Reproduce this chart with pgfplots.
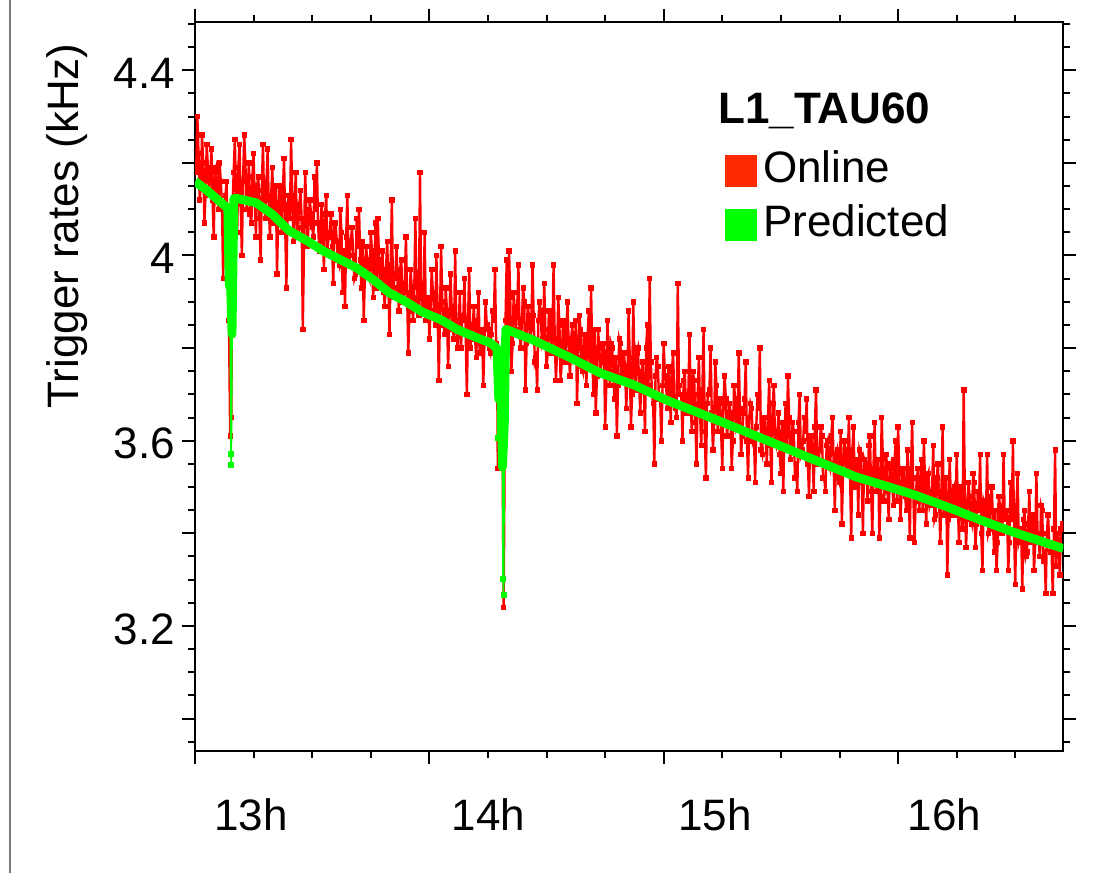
\documentclass[border=0pt]{standalone}
\usepackage{fontspec}
\setmainfont{Liberation Sans}
\usepackage{pgfplots}
\usepackage{pgfplotstable}
\pgfplotsset{compat=1.18}

\definecolor{online}{RGB}{255,0,0}
\definecolor{predicted}{RGB}{0,255,0}
\definecolor{onlinekey}{RGB}{255,42,0}
\definecolor{borderline}{RGB}{120,120,120}
\newcommand{\chartfont}{\fontsize{22}{26}\selectfont}

% online rate, hours vs kHz
\pgfplotstableread{
t r
13.00 4.21
13.005 4.18
13.01 4.30
13.015 4.22
13.02 4.12
13.025 4.15
13.03 4.26
13.035 4.20
13.04 4.07
13.045 4.13
13.05 4.24
13.055 4.19
13.06 4.14
13.065 4.17
13.07 4.23
13.075 4.12
13.08 4.04
13.085 4.18
13.09 4.19
13.095 4.14
13.10 4.10
13.105 4.20
13.11 4.16
13.115 4.11
13.12 3.95
13.125 4.09
13.13 4.13
13.135 4.16
13.14 3.98
13.145 3.86
13.150 3.61
13.155 3.65
13.16 4.10
13.165 4.18
13.17 4.25
13.175 4.13
13.18 4.05
13.185 4.19
13.19 4.24
13.195 4.11
13.20 4.00
13.205 4.16
13.21 4.26
13.215 4.20
13.22 4.10
13.225 4.14
13.23 4.20
13.235 4.09
13.24 4.07
13.245 4.17
13.25 4.22
13.255 4.12
13.26 4.04
13.265 4.15
13.27 4.17
13.275 4.08
13.28 3.99
13.285 4.14
13.29 4.24
13.295 4.11
13.30 4.08
13.305 4.16
13.31 4.23
13.315 4.10
13.32 4.04
13.325 4.13
13.33 4.19
13.335 4.07
13.34 4.12
13.345 4.15
13.35 3.96
13.355 4.09
13.36 4.15
13.365 4.12
13.37 4.05
13.375 4.14
13.38 4.21
13.385 4.06
13.39 3.93
13.395 4.11
13.40 4.13
13.405 4.08
13.41 4.25
13.415 4.13
13.42 4.03
13.425 4.10
13.43 4.18
13.435 4.05
13.44 4.06
13.445 4.11
13.45 4.14
13.455 4.08
13.46 3.84
13.465 4.02
13.47 4.18
13.475 4.10
13.48 4.02
13.485 4.07
13.49 4.12
13.495 4.09
13.50 4.06
13.505 4.04
13.51 4.17
13.515 4.10
13.52 4.20
13.525 4.07
13.53 4.01
13.535 4.03
13.54 4.11
13.545 4.06
13.55 3.97
13.555 4.09
13.56 4.13
13.565 4.01
13.57 4.04
13.575 4.05
13.58 4.09
13.585 4.02
13.59 3.94
13.595 4.07
13.60 4.07
13.605 4.03
13.61 3.99
13.615 3.98
13.62 4.10
13.625 4.05
13.63 3.92
13.635 4.01
13.64 3.89
13.645 4.04
13.65 4.13
13.655 3.99
13.66 4.00
13.665 4.03
13.67 4.06
13.675 4.00
13.68 3.95
13.685 3.96
13.69 4.08
13.695 4.02
13.70 4.10
13.705 3.99
13.71 3.93
13.715 4.03
13.72 3.86
13.725 3.96
13.73 4.02
13.735 3.99
13.74 3.96
13.745 3.95
13.75 4.05
13.755 4.01
13.76 3.91
13.765 3.97
13.77 4.07
13.775 3.93
13.78 4.08
13.785 3.99
13.79 3.94
13.795 3.96
13.80 4.01
13.805 3.92
13.81 3.89
13.815 3.97
13.82 4.03
13.825 3.94
13.83 3.83
13.835 3.98
13.84 4.12
13.845 3.91
13.85 3.95
13.855 3.96
13.86 4.02
13.865 3.93
13.87 3.88
13.875 3.97
13.88 3.99
13.885 3.90
13.89 3.90
13.895 3.94
13.90 4.04
13.905 3.92
13.91 3.79
13.915 3.88
13.92 3.97
13.925 3.93
13.93 3.86
13.935 3.90
13.94 4.08
13.945 3.95
13.95 3.91
13.955 3.87
13.96 4.18
13.965 3.92
13.97 3.88
13.975 3.89
13.98 4.05
13.985 3.86
13.99 3.86
13.995 3.91
14.00 3.82
14.005 3.88
14.01 3.97
14.015 3.92
14.02 3.88
14.025 3.85
14.03 4.00
14.035 3.89
14.04 3.73
14.045 3.86
14.05 4.02
14.055 3.90
14.06 3.85
14.065 3.83
14.07 3.93
14.075 3.88
14.08 3.76
14.085 3.85
14.09 3.96
14.095 3.89
14.10 3.84
14.105 3.82
14.11 4.01
14.115 3.86
14.12 3.80
14.125 3.84
14.13 3.92
14.135 3.80
14.14 3.86
14.145 3.87
14.15 3.95
14.155 3.83
14.16 3.70
14.165 3.86
14.17 3.97
14.175 3.80
14.18 3.83
14.185 3.85
14.19 3.89
14.195 3.82
14.20 3.78
14.205 3.86
14.21 3.92
14.215 3.79
14.22 3.81
14.225 3.84
14.23 3.72
14.235 3.81
14.24 3.90
14.245 3.85
14.25 3.84
14.255 3.80
14.26 3.79
14.265 3.83
14.27 3.88
14.275 3.86
14.28 3.97
14.285 3.81
14.29 3.71
14.292 3.54
14.30 3.78
14.31 3.74
14.317 3.24
14.325 3.86
14.33 3.99
14.335 3.85
14.34 4.01
14.345 3.91
14.35 3.75
14.355 3.81
14.36 3.92
14.365 3.87
14.37 3.84
14.375 3.89
14.38 3.98
14.385 3.83
14.39 3.80
14.395 3.86
14.40 3.93
14.405 3.90
14.41 3.71
14.415 3.81
14.42 3.89
14.425 3.87
14.43 3.82
14.435 3.84
14.44 3.98
14.445 3.87
14.45 3.77
14.455 3.78
14.46 3.71
14.465 3.86
14.47 3.90
14.475 3.88
14.48 3.81
14.485 3.82
14.49 3.94
14.495 3.84
14.50 3.76
14.505 3.79
14.51 3.88
14.515 3.88
14.52 3.79
14.525 3.82
14.53 3.98
14.535 3.82
14.54 3.73
14.545 3.79
14.55 3.91
14.555 3.85
14.56 3.73
14.565 3.77
14.57 3.86
14.575 3.84
14.58 3.77
14.585 3.85
14.59 3.90
14.595 3.79
14.60 3.74
14.605 3.82
14.61 3.85
14.615 3.78
14.62 3.79
14.625 3.86
14.63 3.68
14.635 3.78
14.64 3.87
14.645 3.84
14.65 3.76
14.655 3.75
14.66 3.83
14.665 3.81
14.67 3.72
14.675 3.82
14.68 3.88
14.685 3.76
14.69 3.93
14.695 3.79
14.70 3.70
14.705 3.84
14.71 3.66
14.715 3.74
14.72 3.84
14.725 3.80
14.73 3.75
14.735 3.77
14.74 3.81
14.745 3.81
14.75 3.63
14.755 3.72
14.76 3.86
14.765 3.79
14.77 3.72
14.775 3.81
14.78 3.80
14.785 3.75
14.79 3.69
14.795 3.78
14.80 3.61
14.805 3.72
14.81 3.82
14.815 3.81
14.82 3.74
14.825 3.75
14.83 3.79
14.835 3.76
14.84 3.67
14.845 3.73
14.85 3.88
14.855 3.78
14.86 3.63
14.865 3.70
14.87 3.90
14.875 3.77
14.88 3.71
14.885 3.79
14.89 3.80
14.895 3.72
14.90 3.66
14.905 3.75
14.91 3.77
14.915 3.71
14.92 3.62
14.925 3.80
14.93 3.85
14.935 3.72
14.94 3.95
14.945 3.77
14.95 3.70
14.955 3.68
14.96 3.55
14.965 3.74
14.97 3.78
14.975 3.76
14.98 3.69
14.985 3.69
14.99 3.60
14.995 3.72
15.00 3.81
15.005 3.74
15.01 3.72
15.015 3.67
15.02 3.76
15.025 3.72
15.03 3.64
15.035 3.75
15.04 3.79
15.045 3.68
15.05 3.67
15.055 3.65
15.06 3.94
15.065 3.72
15.07 3.70
15.075 3.70
15.08 3.60
15.085 3.73
15.09 3.75
15.095 3.66
15.10 3.66
15.105 3.70
15.11 3.83
15.115 3.68
15.12 3.62
15.125 3.75
15.13 3.73
15.135 3.64
15.14 3.55
15.145 3.70
15.15 3.78
15.155 3.66
15.16 3.59
15.165 3.71
15.17 3.84
15.175 3.62
15.18 3.52
15.185 3.68
15.19 3.70
15.195 3.71
15.20 3.80
15.205 3.66
15.21 3.58
15.215 3.64
15.22 3.77
15.225 3.72
15.23 3.62
15.235 3.66
15.24 3.69
15.245 3.62
15.25 3.54
15.255 3.68
15.26 3.74
15.265 3.69
15.27 3.61
15.275 3.64
15.28 3.68
15.285 3.66
15.29 3.54
15.295 3.60
15.30 3.72
15.305 3.69
15.31 3.63
15.315 3.64
15.32 3.79
15.325 3.67
15.33 3.57
15.335 3.61
15.34 3.66
15.345 3.69
15.35 3.77
15.355 3.60
15.36 3.52
15.365 3.65
15.37 3.68
15.375 3.67
15.38 3.60
15.385 3.61
15.39 3.51
15.395 3.63
15.40 3.70
15.405 3.67
15.41 3.80
15.415 3.58
15.42 3.57
15.425 3.65
15.43 3.65
15.435 3.61
15.44 3.55
15.445 3.65
15.45 3.73
15.455 3.59
15.46 3.51
15.465 3.68
15.47 3.72
15.475 3.60
15.48 3.59
15.485 3.62
15.49 3.66
15.495 3.57
15.50 3.53
15.505 3.64
15.51 3.49
15.515 3.61
15.52 3.68
15.525 3.58
15.53 3.74
15.535 3.65
15.54 3.56
15.545 3.59
15.55 3.64
15.555 3.62
15.56 3.52
15.565 3.55
15.57 3.49
15.575 3.64
15.58 3.70
15.585 3.57
15.59 3.58
15.595 3.60
15.60 3.65
15.605 3.62
15.61 3.69
15.615 3.55
15.62 3.48
15.625 3.61
15.63 3.61
15.635 3.57
15.64 3.49
15.645 3.63
15.65 3.71
15.655 3.55
15.66 3.55
15.665 3.58
15.67 3.63
15.675 3.61
15.68 3.52
15.685 3.52
15.69 3.49
15.695 3.59
15.70 3.60
15.705 3.55
15.71 3.54
15.715 3.61
15.72 3.65
15.725 3.55
15.73 3.45
15.735 3.57
15.74 3.58
15.745 3.52
15.75 3.51
15.755 3.62
15.76 3.42
15.765 3.53
15.77 3.60
15.775 3.58
15.78 3.53
15.785 3.55
15.79 3.65
15.795 3.53
15.80 3.39
15.805 3.58
15.81 3.63
15.815 3.50
15.82 3.50
15.825 3.56
15.83 3.44
15.835 3.58
15.84 3.57
15.845 3.51
15.85 3.40
15.855 3.56
15.86 3.55
15.865 3.53
15.87 3.47
15.875 3.59
15.88 3.61
15.885 3.49
15.89 3.40
15.895 3.54
15.90 3.64
15.905 3.51
15.91 3.49
15.915 3.56
15.92 3.39
15.925 3.48
15.93 3.65
15.935 3.56
15.94 3.47
15.945 3.52
15.95 3.57
15.955 3.49
15.96 3.43
15.965 3.54
15.97 3.55
15.975 3.51
15.98 3.46
15.985 3.56
15.99 3.60
15.995 3.47
16.00 3.63
16.005 3.53
16.01 3.43
16.015 3.49
16.02 3.54
16.025 3.54
16.03 3.48
16.035 3.45
16.04 3.58
16.045 3.51
16.05 3.39
16.055 3.54
16.06 3.64
16.065 3.49
16.07 3.38
16.075 3.47
16.08 3.52
16.085 3.54
16.09 3.45
16.095 3.49
16.10 3.56
16.105 3.45
16.11 3.60
16.115 3.51
16.12 3.42
16.125 3.52
16.13 3.53
16.135 3.46
16.14 3.47
16.145 3.49
16.15 3.59
16.155 3.43
16.16 3.44
16.165 3.52
16.17 3.55
16.175 3.47
16.18 3.38
16.185 3.49
16.19 3.63
16.195 3.44
16.20 3.46
16.205 3.52
16.21 3.31
16.215 3.43
16.22 3.56
16.225 3.48
16.23 3.44
16.235 3.49
16.24 3.50
16.245 3.44
16.25 3.57
16.255 3.46
16.26 3.38
16.265 3.50
16.27 3.47
16.275 3.41
16.28 3.71
16.285 3.47
16.29 3.37
16.295 3.44
16.30 3.51
16.305 3.48
16.31 3.43
16.315 3.42
16.32 3.53
16.325 3.51
16.33 3.37
16.335 3.42
16.34 3.49
16.345 3.45
16.35 3.57
16.355 3.40
16.36 3.32
16.365 3.47
16.37 3.46
16.375 3.44
16.38 3.57
16.385 3.40
16.39 3.41
16.395 3.48
16.40 3.50
16.405 3.42
16.41 3.36
16.415 3.45
16.42 3.32
16.425 3.38
16.43 3.48
16.435 3.46
16.44 3.40
16.445 3.40
16.45 3.57
16.455 3.43
16.46 3.43
16.465 3.45
16.47 3.32
16.475 3.38
16.48 3.51
16.485 3.43
16.49 3.60
16.495 3.40
16.50 3.29
16.505 3.46
16.51 3.53
16.515 3.38
16.52 3.39
16.525 3.41
16.53 3.28
16.535 3.43
16.54 3.45
16.545 3.35
16.55 3.36
16.555 3.42
16.56 3.49
16.565 3.38
16.57 3.41
16.575 3.44
16.58 3.32
16.585 3.38
16.59 3.53
16.595 3.40
16.60 3.38
16.605 3.35
16.61 3.46
16.615 3.45
16.62 3.34
16.625 3.36
16.63 3.27
16.635 3.40
16.64 3.44
16.645 3.38
16.65 3.36
16.655 3.36
16.66 3.27
16.665 3.41
16.67 3.58
16.675 3.33
16.68 3.40
16.685 3.38
16.69 3.31
16.695 3.41
16.70 3.42
}\onlinerates

% predicted rate
\pgfplotstableread{
t r
13.00 4.160
13.05 4.141
13.10 4.119
13.14 4.102
13.146 3.935
13.152 3.930
13.158 3.830
13.166 4.123
13.18 4.123
13.26 4.114
13.33 4.089
13.40 4.054
13.48 4.031
13.55 4.009
13.62 3.991
13.69 3.973
13.76 3.948
13.83 3.919
13.90 3.900
13.97 3.878
14.05 3.861
14.12 3.840
14.19 3.825
14.26 3.811
14.288 3.800
14.296 3.690
14.306 3.700
14.312 3.543
14.320 3.640
14.326 3.840
14.33 3.840
14.44 3.818
14.59 3.782
14.73 3.746
14.87 3.721
15.01 3.688
15.14 3.662
15.26 3.638
15.40 3.609
15.54 3.580
15.68 3.551
15.82 3.522
15.95 3.502
16.07 3.483
16.21 3.457
16.35 3.429
16.49 3.403
16.64 3.378
16.705 3.367
}\predictedrates

\pgfplotstableread{
t r
13.150 3.930
13.153 3.571
13.155 3.548
13.158 3.830
}\predicteddipA

\pgfplotstableread{
t r
14.290 3.780
14.292 3.606
14.296 3.690
14.312 3.543
14.314 3.301
14.317 3.266
14.320 3.640
}\predicteddipB

\begin{document}
\begin{tikzpicture}
\useasboundingbox (0,0) rectangle (556pt,436.5pt);
\draw[borderline, line width=0.6pt] (5pt,0) -- (5pt,436.5pt);
\begin{axis}[
  at={(97.5pt,61pt)}, anchor=south west,
  scale only axis, width=434.15pt, height=364.7pt,
  xmin=13, xmax=16.705, ymin=2.93, ymax=4.505,
  clip marker paths=true,
  axis line style={line width=1pt},
  tick style={line width=1pt, black},
  tick align=outside,
  major tick length=6.5pt, minor tick length=3.5pt,
  xtick={13,14,15,16}, xticklabels={},
  minor xtick={13.25,13.5,13.75,14.25,14.5,14.75,15.25,15.5,15.75,16.25,16.5},
  extra x ticks={13.238,14.252,15.218,16.198},
  extra x tick labels={13h,14h,15h,16h},
  extra x tick style={tick style={draw=none}},
  xticklabel style={yshift=-14pt},
  ytick={3.0,3.2,3.4,3.6,3.8,4.0,4.2,4.4},
  yticklabels={,3.2,,3.6,,4,,4.4},
  yticklabel style={yshift=-1.5pt},
  minor ytick={2.95,3.05,3.1,3.15,3.25,3.3,3.35,3.45,3.5,3.55,3.65,3.7,3.75,3.85,3.9,3.95,4.05,4.1,4.15,4.25,4.3,4.35,4.45,4.5},
  tick label style={font=\chartfont},
  /pgf/number format/assume math mode=true,
  ylabel={Trigger rates (kHz)},
  ylabel style={font=\chartfont, at={(axis description cs:-0.1475,0.7197)}, anchor=center, inner sep=0pt},
  legend style={draw=none, fill=none, inner sep=0pt, outer sep=0pt,
    at={(axis description cs:0.6106,0.8225)}, anchor=north west,
    row sep=9pt, column sep=3.2pt, font=\chartfont,
    nodes={inner sep=0pt}, cells={anchor=base west}},
]
\addplot[online, line width=1.2pt, mark=square*, mark size=1.1pt,
  mark options={line width=0.4pt},
  legend image code/.code={\fill[onlinekey, draw=none] (0pt,-2pt) rectangle (15.85pt,13.85pt);}]
  table[x=t, y=r] {\onlinerates};
\addlegendentry{Online}
\addplot[predicted, line width=4.4pt, line join=round,
  legend image code/.code={\fill[predicted, draw=none] (0pt,-2pt) rectangle (15.85pt,13.85pt);}]
  table[x=t, y=r] {\predictedrates};
\addlegendentry{Predicted}
\addplot[predicted, line width=0.8pt, mark=square*, mark size=1.1pt, forget plot]
  table[x=t, y=r] {\predicteddipA};
\addplot[predicted, line width=0.8pt, mark=square*, mark size=1.1pt, forget plot]
  table[x=t, y=r] {\predicteddipB};
\node[anchor=base west, inner sep=0pt, font=\chartfont\bfseries]
  at (axis description cs:0.6025,0.8605) {L1\_TAU60};
\end{axis}
\end{tikzpicture}
\end{document}
